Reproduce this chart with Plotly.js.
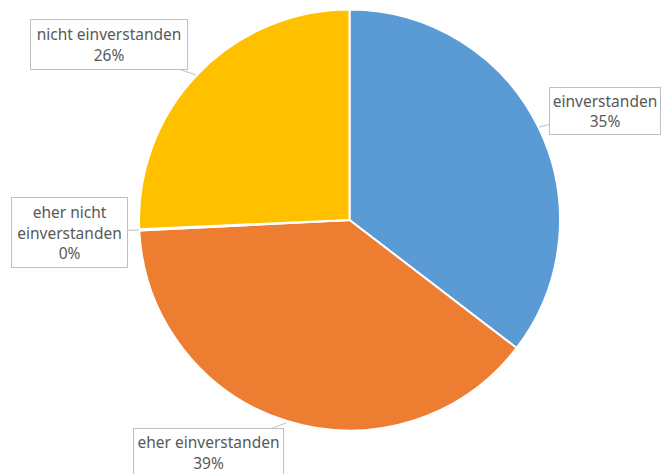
<!DOCTYPE html>
<html>
<head>
<meta charset="utf-8">
<script src="https://cdn.plot.ly/plotly-3.0.1.min.js"></script>
<style>html,body{margin:0;padding:0;background:#fff;}#chart{width:661px;height:474px;}</style>
</head>
<body>
<div id="chart"></div>
<script>
const categories = ["einverstanden", "eher einverstanden", "eher nicht einverstanden", "nicht einverstanden"];
const values = [35.4, 38.8, 0.1, 25.7];
const labelNames = ["einverstanden", "eher einverstanden", "eher nicht<br>einverstanden", "nicht einverstanden"];
const colors = ["#5B9BD5", "#ED7D31", "#A5A5A5", "#FFC000"];

const W = 661, H = 474;
const total = values.reduce((a, b) => a + b, 0);
// callout: arrow tip (px) and box centre offsets (px)
const callouts = [
  {tip: [539, 127], off: [66, -16], w: 106, h: 42},
  {tip: [286, 423], off: [-78, 29], w: 145, h: 43},
  {tip: [139, 230], off: [-70, 2], w: 111, h: 65},
  {tip: [196, 75], off: [-87, -30], w: 152, h: 45}
];

const annotations = categories.map((c, i) => ({
  xref: "paper", yref: "paper",
  x: callouts[i].tip[0] / W, y: 1 - callouts[i].tip[1] / H,
  ax: callouts[i].off[0], ay: callouts[i].off[1],
  axref: "pixel", ayref: "pixel",
  text: labelNames[i] + "<br>" + Math.round(values[i] / total * 100) + "%",
  showarrow: true, arrowhead: 0, arrowwidth: 1, arrowcolor: "#BFBFBF",
  bordercolor: "#BFBFBF", borderwidth: 1, borderpad: 2, bgcolor: "#FFFFFF",
  width: callouts[i].w, height: callouts[i].h,
  font: {family: "Noto Sans, Open Sans, sans-serif", size: 15.5, color: "#595959"},
  align: "center", valign: "middle"
}));

const data = [{
  type: "pie",
  labels: categories,
  values: values,
  sort: false,
  direction: "clockwise",
  rotation: 0,
  textinfo: "none",
  hoverinfo: "label+percent",
  marker: {colors: colors, line: {color: "#FFFFFF", width: 2}},
  domain: {x: [139 / W, 560 / W], y: [1 - 431 / H, 1 - 9 / H]}
}];

const layout = {
  width: W, height: H,
  margin: {l: 0, r: 0, t: 0, b: 0},
  showlegend: false,
  paper_bgcolor: "#FFFFFF",
  annotations: annotations
};

Plotly.newPlot("chart", data, layout, {displayModeBar: false, staticPlot: true});
</script>
</body>
</html>
